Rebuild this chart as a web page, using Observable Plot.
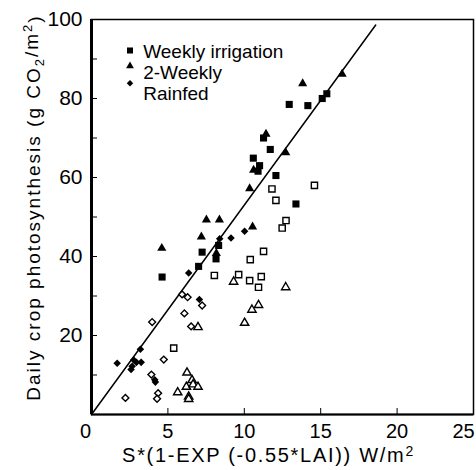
<!DOCTYPE html>
<html><head><meta charset="utf-8">
<script src="https://cdn.jsdelivr.net/npm/d3@7"></script>
<script src="https://cdn.jsdelivr.net/npm/@observablehq/plot@0.6"></script>
<style>
html,body{margin:0;padding:0;background:#fff;}
#chart svg{display:block;}
</style></head><body><div id="chart"></div>
<script>
// ---- data ----
const seriesNames = ["Weekly irrigation", "2-Weekly", "Rainfed"];
const seriesSymbols = ["square", "triangle", "diamond2"];

// filled symbols
const weeklyFilled = [[12.94,78.5],[14.16,78.2],[15.4,81.2],[15.1,80.0],[11.26,70.0],[11.7,67.1],[10.59,64.9],[11.0,63.0],[10.9,61.6],[12.07,60.5],[13.38,53.3],[8.32,42.8],[7.24,41.1],[8.15,39.4],[7.01,37.5],[4.62,34.8]];
const twoWeeklyFilled = [[13.82,84.1],[16.4,86.5],[11.42,71.3],[12.71,66.6],[10.61,62.2],[10.35,57.5],[7.52,49.6],[8.37,49.6],[10.54,47.8],[7.19,45.3],[4.6,42.4],[8.17,41.1]];
const rainfedFilled = [[10.02,46.4],[9.13,44.7],[8.39,44.5],[6.36,35.8],[7.06,29.1],[3.2,16.5],[1.68,13.0],[2.76,13.8],[2.94,13.2],[3.25,13.2],[2.66,12.2],[2.59,11.4],[4.14,8.8],[4.18,8.2]];
// open symbols
const weeklyOpen = [[11.81,57.1],[14.59,58.0],[12.07,54.2],[12.73,49.1],[12.48,47.2],[11.26,41.3],[10.39,39.2],[8.04,35.2],[9.63,35.4],[10.35,33.9],[11.11,34.9],[10.93,32.2],[5.38,16.8]];
const twoWeeklyOpen = [[9.3,33.9],[12.71,32.5],[10.93,28.0],[10.5,26.8],[10.02,23.5],[6.97,22.4],[6.25,10.9],[6.58,9.0],[6.21,7.3],[6.65,7.9],[6.97,7.3],[5.64,5.9],[6.36,4.8],[6.36,4.2]];
const rainfedOpen = [[5.93,30.4],[6.29,29.7],[7.24,27.6],[6.08,25.6],[3.97,23.4],[6.52,22.3],[4.73,13.9],[3.92,10.1],[4.36,5.4],[4.29,4.0],[2.22,4.2]];

// fitted line end points
const fitLineX = [0, 18.6];
const fitLineY = [0, 98.6];

// ticks
const xTicks = [5, 10, 15, 20];
const xFirstTick = [0];
const xLastTick = [25];
const yTickMarks = [10, 20, 30, 40, 50, 60, 70, 80, 90, 100];
const yTickLabels = [20, 40, 60, 80, 100];

const xLabelMain = "S*(1-EXP (-0.55*LAI)) W/m";
const yLabelMain = "Daily crop photosynthesis (g CO";

// ---- build ----
const toRows = arr => arr.map(([x, y]) => ({x, y}));
const fitLine = fitLineX.map((x, i) => ({x, y: fitLineY[i]}));
const font = "'Liberation Sans', Arial, Helvetica, sans-serif";

const filledSets = [weeklyFilled, twoWeeklyFilled, rainfedFilled];
const openSets = [weeklyOpen, twoWeeklyOpen, rainfedOpen];
const rFilled = {square: 4.0, triangle: 3.4, diamond2: 3.4};
const rOpen = {square: 3.5, triangle: 3.1, diamond2: 3.1};
const legendMarkDy = [31, 46.5, 63.7];
const legendTextDy = [24.9, 45.9, 67.4];

const marks = [
  Plot.frame({stroke: "#000", strokeWidth: 1.5}),
  Plot.ruleX([0], {stroke: "#000", strokeWidth: 3}),
  Plot.ruleY([0], {stroke: "#000", strokeWidth: 2.2}),
  Plot.axisX({ticks: [...xFirstTick, ...xTicks, ...xLastTick], tickSize: 6, dy: -6, tickFormat: () => "", label: null}),
  Plot.axisX({ticks: xTicks, tickSize: 0, tickPadding: 9, fontSize: 20, label: null}),
  Plot.axisX({ticks: xFirstTick, tickSize: 0, tickPadding: 9, dx: -6, fontSize: 20, label: null}),
  Plot.axisX({ticks: xLastTick, tickSize: 0, tickPadding: 9, dx: -10, fontSize: 20, label: null}),
  Plot.axisY({ticks: yTickMarks, tickSize: 6, dx: 6, tickFormat: () => "", label: null}),
  Plot.axisY({ticks: yTickLabels, tickSize: 0, tickPadding: 9, fontSize: 21, label: null}),
  Plot.line(fitLine, {x: "x", y: "y", stroke: "#000", strokeWidth: 1.5})
];
seriesSymbols.forEach((sym, i) => {
  const dyAdj = sym === "triangle" ? 1.2 : 0;
  marks.push(Plot.dot(toRows(openSets[i]), {x: "x", y: "y", symbol: sym, r: rOpen[sym], fill: "#fff", stroke: "#000", strokeWidth: 1.4, dy: dyAdj}));
  marks.push(Plot.dot(toRows(filledSets[i]), {x: "x", y: "y", symbol: sym, r: rFilled[sym], fill: "#000", stroke: "none", dy: dyAdj}));
  // legend
  marks.push(Plot.dot([seriesNames[i]], {frameAnchor: "top-left", dx: 38.5, dy: legendMarkDy[i], symbol: sym, r: rFilled[sym] * 0.85, fill: "#000", stroke: "none"}));
  marks.push(Plot.text([seriesNames[i]], {frameAnchor: "top-left", dx: 51.7, dy: legendTextDy[i], text: d => d, textAnchor: "start", fontSize: 19, fill: "#000"}));
});

const plot = Plot.plot({
  width: 476, height: 470,
  marginLeft: 91, marginRight: 3, marginTop: 19, marginBottom: 56,
  x: {domain: [0, 25]},
  y: {domain: [0, 100]},
  style: {fontFamily: font, background: "#fff", color: "#000"},
  marks
});

const svg = d3.select(plot);
// x axis label
const xl = svg.append("text")
  .attr("x", 268.5).attr("y", 462)
  .attr("text-anchor", "middle")
  .style("font-family", font).style("font-size", "20px").style("letter-spacing", "1.7px")
  .attr("fill", "#000");
xl.append("tspan").text(xLabelMain);
xl.append("tspan").attr("dy", "-0.45em").style("font-size", "14px").text("2");

// y axis label
const yl = svg.append("text")
  .attr("transform", "translate(40,207.5) rotate(-90)")
  .attr("text-anchor", "middle")
  .style("font-family", font).style("font-size", "19px").style("letter-spacing", "2px")
  .attr("fill", "#000");
yl.append("tspan").text(yLabelMain);
yl.append("tspan").attr("dy", "0.3em").style("font-size", "13px").text("2");
yl.append("tspan").attr("dy", "-0.3em").text("/m");
yl.append("tspan").attr("dy", "-0.45em").style("font-size", "13px").text("2");
yl.append("tspan").attr("dy", "0.45em").text(")");

document.getElementById("chart").appendChild(plot);
</script>
</body></html>
